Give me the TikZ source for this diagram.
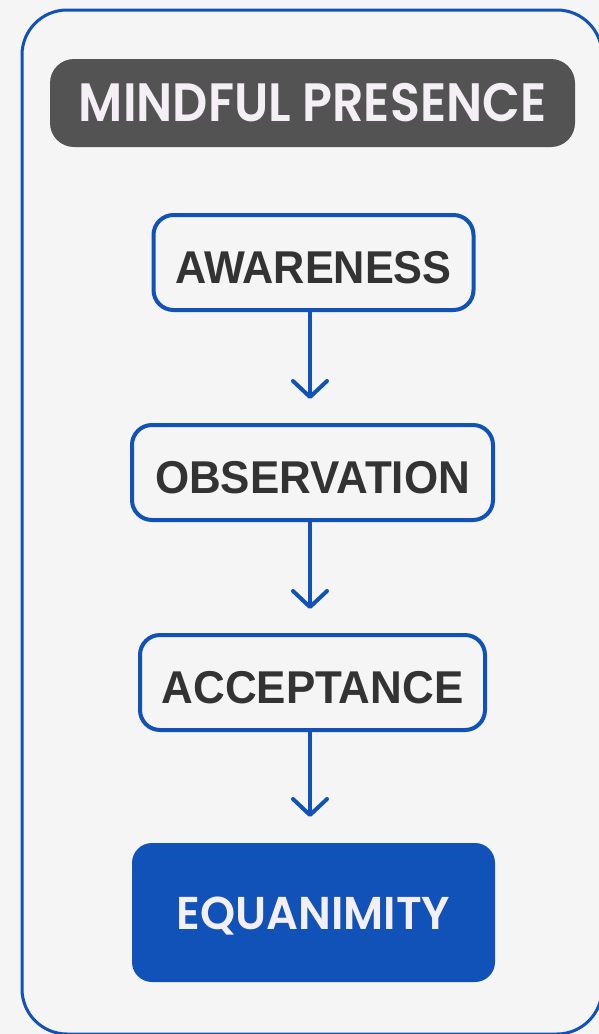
\documentclass[tikz,border=0pt]{standalone}
\usepackage{fontspec}
\usetikzlibrary{arrows.meta}
\newfontfamily\headfont{Poppins SemiBold}
\newfontfamily\bodyfont{Liberation Sans}[BoldFont={Liberation Sans Bold}]
\newcommand\narrowtext[2]{\scalebox{#1}[1]{#2}}
\definecolor{pageback}{HTML}{F5F5F5}
\definecolor{flowblue}{HTML}{1052B8}
\definecolor{titlegray}{HTML}{535353}
\definecolor{lighttext}{HTML}{F4EFF4}
\definecolor{darktext}{HTML}{333333}
\tikzset{
  stage/.style={draw=flowblue, line width=4pt, fill=pageback, rounded corners=20pt,
    inner sep=0pt, outer sep=0pt, text=darktext,
    font=\bodyfont\bfseries\fontsize{46}{46}\selectfont,
    text height=41pt, text depth=0pt},
  flow/.style={draw=flowblue, line width=4pt, line cap=round, line join=round,
    -{Straight Barb[length=16pt,width=34pt,round]}, shorten >=26pt},
}
\begin{document}
\begin{tikzpicture}[x=1pt,y=-1pt]
  \useasboundingbox (0,0) rectangle (599,1034);
  \fill[pageback] (0,0) rectangle (599,1034);
  % outer frame, partly running past the page edge
  \draw[flowblue, line width=3pt, rounded corners=45pt] (22,10) rectangle (602,1034);
  % heading
  \node[fill=titlegray, rounded corners=24pt, inner sep=0pt, outer sep=0pt,
        minimum width=525pt, minimum height=88pt, text=lighttext,
        font=\headfont\fontsize{54}{54}\selectfont, text height=36pt, text depth=0pt]
    (title) at (312.5,103) {\narrowtext{0.91}{MINDFUL PRESENCE}};
  % stages
  \node[stage, minimum width=320pt, minimum height=95pt] (aw) at (313.5,262.5) {\narrowtext{0.94}{AWARENESS}};
  \node[stage, minimum width=361pt, minimum height=95pt] (ob) at (312.5,472.5) {\narrowtext{0.955}{OBSERVATION}};
  \node[stage, minimum width=345pt, minimum height=95pt] (ac) at (312.5,682.5) {\narrowtext{0.955}{ACCEPTANCE}};
  \node[fill=flowblue, rounded corners=20pt, inner sep=0pt, outer sep=0pt,
        minimum width=363pt, minimum height=139pt, text=lighttext,
        font=\headfont\fontsize{46}{46}\selectfont, text height=33pt, text depth=0pt]
    (eq) at (313.5,912.5) {\narrowtext{0.97}{EQUANIMITY}};
  % connectors
  \draw[flow] (aw.south -| 310,0) -- (ob.north -| 310,0);
  \draw[flow] (ob.south -| 310,0) -- (ac.north -| 310,0);
  \draw[flow] (ac.south -| 310,0) -- (eq.north -| 310,0);
\end{tikzpicture}
\end{document}
